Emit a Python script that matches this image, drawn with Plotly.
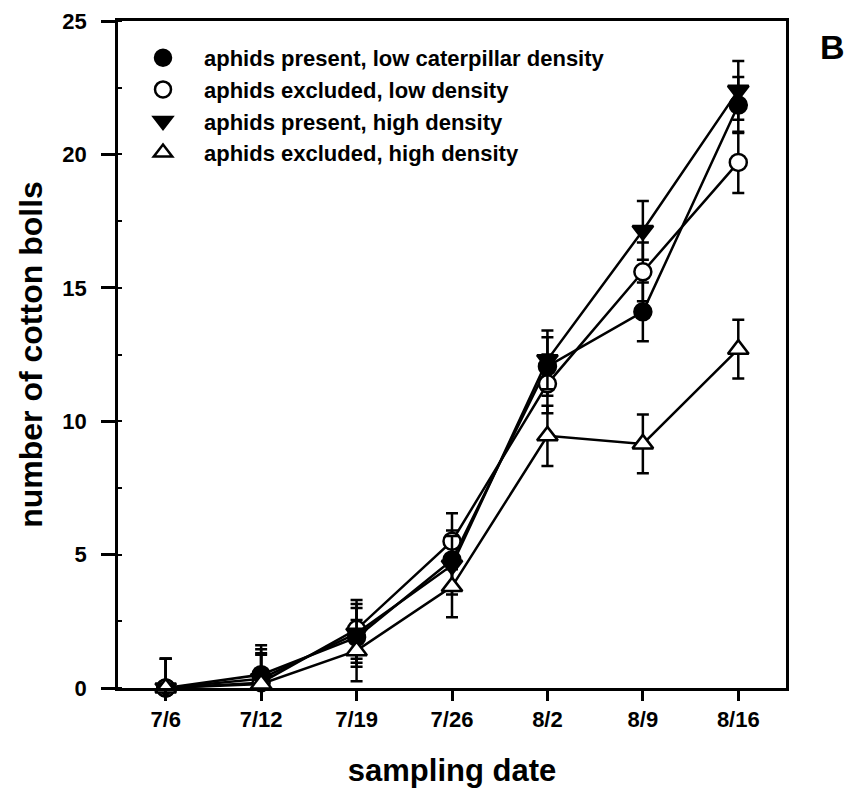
import plotly.graph_objects as go

dates = ["7/6", "7/12", "7/19", "7/26", "8/2", "8/9", "8/16"]

present_low = [0, 0.5, 1.9, 4.8, 12.05, 14.1, 21.85]
present_low_err = [1.1, 1.1, 1.1, 1.1, 1.1, 1.1, 1.05]

excluded_low = [0, 0.2, 2.2, 5.5, 11.4, 15.6, 19.7]
excluded_low_err = [1.1, 1.1, 1.1, 1.05, 1.1, 1.1, 1.15]

present_high = [0, 0.35, 2.05, 4.6, 12.3, 17.15, 22.4]
present_high_err = [1.1, 1.1, 1.1, 1.1, 1.1, 1.1, 1.1]

excluded_high = [0, 0.15, 1.4, 3.8, 9.45, 9.15, 12.7]
excluded_high_err = [1.1, 1.1, 1.15, 1.15, 1.13, 1.1, 1.1]

series = [
    ("aphids present, low caterpillar density", present_low, present_low_err, "circle", "black"),
    ("aphids excluded, low density", excluded_low, excluded_low_err, "circle", "white"),
    ("aphids present, high density", present_high, present_high_err, "triangle-down", "black"),
    ("aphids excluded, high density", excluded_high, excluded_high_err, "triangle-up", "white"),
]

FONT = "Liberation Sans, Arial, sans-serif"

fig = go.Figure()
for name, vals, errs, sym, fill in series:
    minus = [min(v, e) for v, e in zip(vals, errs)]
    fig.add_trace(go.Scatter(
        x=dates, y=vals, mode="lines+markers", name=name, showlegend=False,
        cliponaxis=False,
        line=dict(color="black", width=2.5),
        marker=dict(symbol=sym, size=17 if sym == "circle" else 18, color=fill,
                    line=dict(color="black", width=2.5)),
        error_y=dict(type="data", array=errs, arrayminus=minus, symmetric=False,
                     color="black", thickness=2.5, width=6),
    ))

for i, (name, vals, errs, sym, fill) in enumerate(series):
    fig.add_trace(go.Scatter(
        x=[None], y=[None], mode="markers", name=name,
        marker=dict(symbol=sym, size=17, color=fill, line=dict(color="black", width=2.5)),
    ))

fig.add_annotation(text="B", xref="paper", yref="paper", x=1.069, y=0.961,
                   xanchor="center", yanchor="middle",
                   showarrow=False, font=dict(family=FONT, size=34, color="black", weight="bold"))

fig.update_layout(
    width=850, height=790,
    margin=dict(l=118, r=64, t=21, b=102),
    paper_bgcolor="white", plot_bgcolor="white",
    font=dict(family=FONT, color="black", weight="bold"),
    showlegend=True,
    legend=dict(x=0.006, y=0.976, xanchor="left", yanchor="top",
                font=dict(family=FONT, size=22, color="black", weight="bold"),
                bgcolor="rgba(0,0,0,0)", itemsizing="trace", itemwidth=72,
                traceorder="normal"),
    xaxis=dict(
        range=[-0.5, 6.5], type="category", automargin=False,
        showline=True, linecolor="black", linewidth=2.5, mirror=True,
        ticks="outside", ticklen=10, tickwidth=2.5, tickcolor="black",
        showgrid=False, zeroline=False,
        tickfont=dict(family=FONT, size=22, color="black", weight="bold"),
        title=dict(text="sampling date", font=dict(family=FONT, size=31, color="black", weight="bold"),
                   standoff=29),
    ),
    yaxis=dict(
        range=[0, 25], tickvals=[0, 5, 10, 15, 20, 25], automargin=False,
        showline=True, linecolor="black", linewidth=2.5, mirror=True,
        ticks="outside", ticklen=14, tickwidth=2.5, tickcolor="black",
        ticklabelstandoff=10,
        minor=dict(ticks="inside", ticklen=4, tickwidth=1.5, dtick=2.5, tickcolor="black", showgrid=False),
        showgrid=False, zeroline=False,
        tickfont=dict(family=FONT, size=22, color="black", weight="bold"),
        title=dict(text="number of cotton bolls", font=dict(family=FONT, size=32, color="black", weight="bold"),
                   standoff=11),
    ),
)

fig.write_html("out.html")
